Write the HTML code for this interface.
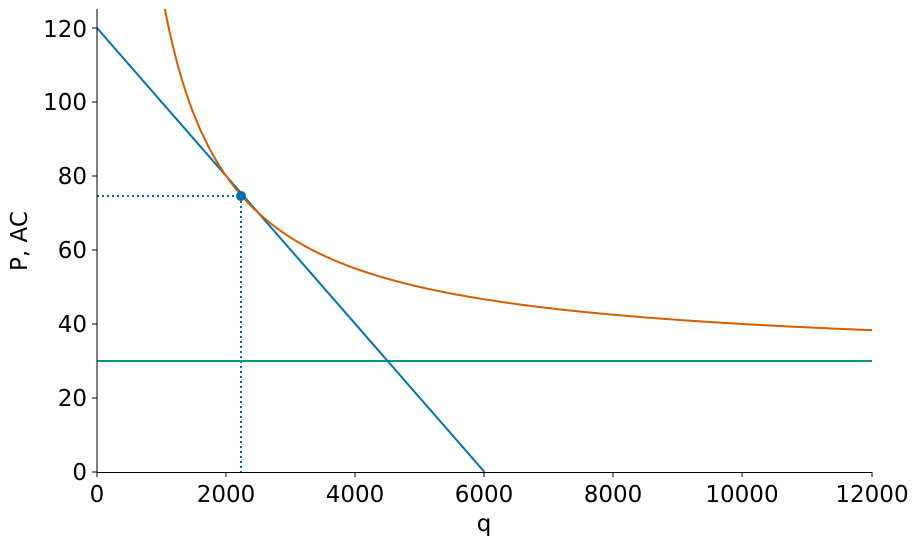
<!DOCTYPE html>
<html><head><meta charset="utf-8"><style>
html,body{margin:0;padding:0;background:#fff;}
svg text{font-family:"DejaVu Sans","Liberation Sans",sans-serif;fill:#000;}
</style></head><body>
<svg id="s" width="921" height="545" viewBox="0 0 921 545" xmlns="http://www.w3.org/2000/svg">
<defs><clipPath id="c"><rect x="97" y="9" width="776" height="464"/></clipPath></defs>
<g clip-path="url(#c)">
<line x1="97" y1="361" x2="872" y2="361" stroke="#009E73" stroke-width="2"/>
<line x1="97" y1="28" x2="484.5" y2="472" stroke="#0072B2" stroke-width="2"/>
<path id="ac" fill="none" stroke="#D55E00" stroke-width="2"/>
<line x1="97" y1="196" x2="241" y2="196" stroke="#0072B2" stroke-width="2" stroke-dasharray="2,3"/>
<line x1="241" y1="196" x2="241" y2="472" stroke="#0072B2" stroke-width="2" stroke-dasharray="2,3"/>
<circle cx="241" cy="196" r="5" fill="#0072B2"/>
</g>
<line x1="97" y1="9" x2="97" y2="473" stroke="#000" stroke-width="1"/>
<line x1="96.5" y1="472.5" x2="872" y2="472.5" stroke="#000" stroke-width="1"/>
<g font-size="23" text-anchor="middle">
<text x="97" y="502">0</text><text x="226" y="502">2000</text><text x="355" y="502">4000</text>
<text x="484" y="502">6000</text><text x="613" y="502">8000</text><text x="742" y="502">10000</text><text x="872" y="502">12000</text>
<text x="484" y="531">q</text>
</g>
<g font-size="23" text-anchor="end">
<text x="87" y="480">0</text><text x="87" y="406">20</text><text x="87" y="332">40</text>
<text x="87" y="258">60</text><text x="87" y="184">80</text><text x="87" y="110">100</text><text x="87" y="37">120</text>
</g>
<g stroke="#000"><line x1="92" y1="472" x2="97" y2="472"/><line x1="92" y1="398" x2="97" y2="398"/><line x1="92" y1="324" x2="97" y2="324"/><line x1="92" y1="250" x2="97" y2="250"/><line x1="92" y1="176" x2="97" y2="176"/><line x1="92" y1="102" x2="97" y2="102"/><line x1="92" y1="28" x2="97" y2="28"/>
<line x1="97" y1="472" x2="97" y2="477"/><line x1="226" y1="472" x2="226" y2="477"/><line x1="355" y1="472" x2="355" y2="477"/><line x1="484" y1="472" x2="484" y2="477"/><line x1="613" y1="472" x2="613" y2="477"/><line x1="742" y1="472" x2="742" y2="477"/><line x1="872" y1="472" x2="872" y2="477"/></g>
<text font-size="23" text-anchor="middle" transform="translate(27,241) rotate(-90)">P, AC</text>
</svg>
<script>
var d="";for(var i=0;i<=300;i++){var q=1000+i*(11000/300);var p=30+100000/q;var x=97+q*775/12000;var y=472-p*3.7;d+=(i?"L":"M")+x.toFixed(2)+","+y.toFixed(2);}
document.getElementById("ac").setAttribute("d",d);
</script>
</body></html>
